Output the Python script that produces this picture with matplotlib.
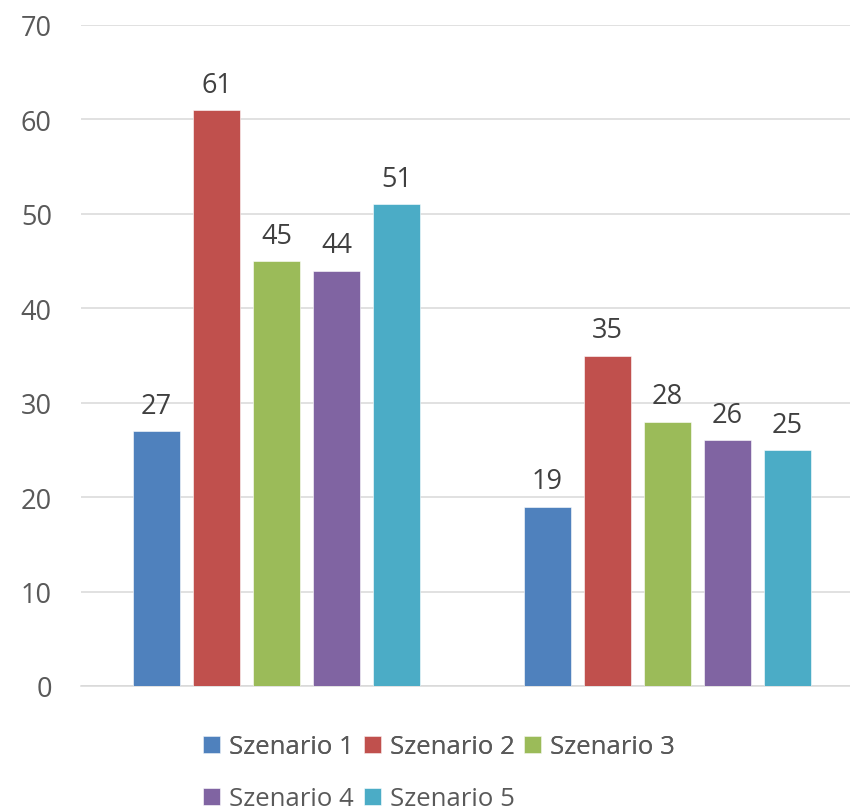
import matplotlib
matplotlib.use("Agg")
import matplotlib.pyplot as plt
import numpy as np

# Data
groups = ["Gruppe A", "Gruppe B"]
series = ["Szenario 1", "Szenario 2", "Szenario 3", "Szenario 4", "Szenario 5"]
values = [
    [27, 19],  # Szenario 1
    [61, 35],  # Szenario 2
    [45, 28],  # Szenario 3
    [44, 26],  # Szenario 4
    [51, 25],  # Szenario 5
]
colors = ["#4F81BD", "#C0504D", "#9BBB59", "#8064A2", "#4BACC6"]
yticks = [0, 10, 20, 30, 40, 50, 60, 70]

plt.rcParams["font.family"] = ["Open Sans", "DejaVu Sans"]
TEXT = "#595959"
LABEL = "#404040"
GRID = "#D9D9D9"
FS = 19.5
LFS = 18.5

W, H = 850, 812
fig = plt.figure(figsize=(W / 100, H / 100), dpi=100)
left, right = 81 / W, 863 / W
bottom, top = (H - 687) / H, (H - 26) / H
ax = fig.add_axes([left, bottom, right - left, top - bottom])

x = np.arange(len(groups))
bar_w = 0.120
step = 0.1535
handles = []
for i, (name, vals, c) in enumerate(zip(series, values, colors)):
    bars = ax.bar(x + (i - 2) * step, vals, width=bar_w, color=c, label=name,
                  zorder=3, edgecolor="white", linewidth=0.4)
    handles.append(bars)
    for b, v in zip(bars, vals):
        ax.annotate(f"{v}", (b.get_x() + b.get_width() / 2, v),
                    xytext=(0, 8), textcoords="offset points",
                    ha="center", va="bottom", fontsize=FS, color=LABEL)

ax.set_xlim(-0.5, 1.5)
ax.set_ylim(0, 70)
ax.set_yticks(yticks)
ax.set_xticks([])
ax.yaxis.grid(True, color=GRID, linewidth=1.1, zorder=0)
ax.set_axisbelow(True)
for s in ["left", "right", "top"]:
    ax.spines[s].set_visible(False)
ax.spines["bottom"].set_color(GRID)
ax.spines["bottom"].set_linewidth(1.1)
ax.tick_params(axis="y", length=0, pad=21, labelsize=FS, labelcolor=TEXT)

leg_kw = dict(frameon=False, fontsize=LFS, labelcolor=TEXT, handlelength=0.66,
              handleheight=0.66, handletextpad=0.35, columnspacing=0.39,
              borderpad=0, borderaxespad=0, loc="center left")
leg1 = fig.legend(handles=handles[:3], labels=series[:3], ncol=3,
                  bbox_to_anchor=(203 / W, (H - 748) / H), **leg_kw)
fig.add_artist(leg1)
leg2 = fig.legend(handles=handles[3:], labels=series[3:], ncol=2,
                  bbox_to_anchor=(203 / W, (H - 800) / H), **leg_kw)

fig.savefig("out.png", dpi=100)
